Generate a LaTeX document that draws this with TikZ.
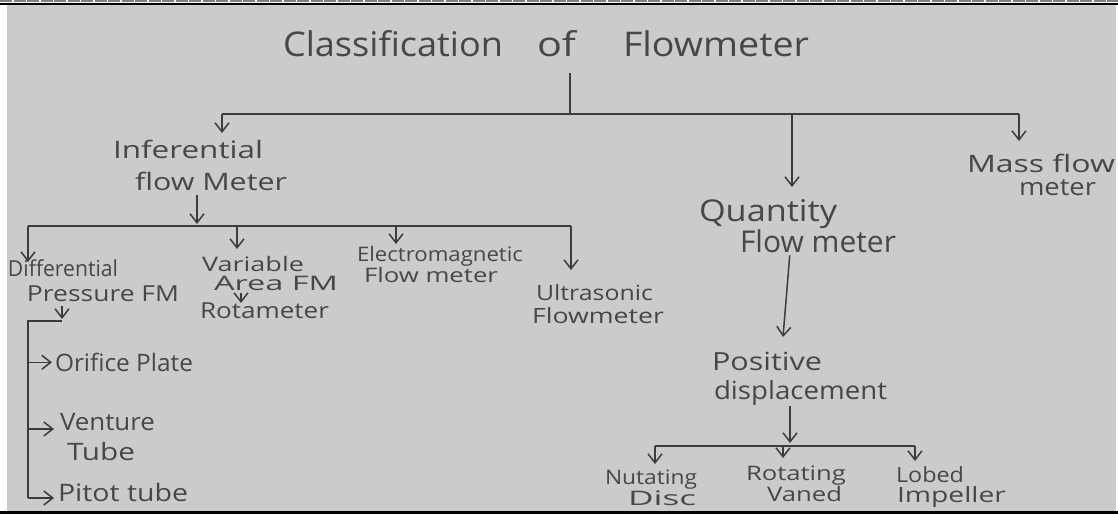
\documentclass[tikz,border=0pt]{standalone}
\usepackage{fontspec}
\usepackage{graphicx}
\setmainfont{Open Sans}
\usetikzlibrary{arrows.meta}
\definecolor{paper}{HTML}{CBCBCB}
\definecolor{ink}{HTML}{3C3C3C}
\definecolor{pencil}{HTML}{474747}
\newcommand\hw[2]{\resizebox{#1pt}{\height}{#2}}
\tikzset{
  lbl/.style 2 args={text=pencil, inner sep=0pt, outer sep=0pt, anchor=north west, align=left,
    font={\fontsize{#1}{#2}\selectfont}},
  ln/.style={draw=ink, line width=1.5pt},
  arr/.style={draw=ink, line width=1.5pt, -{Straight Barb[length=9pt,width=14pt]}}
}
\begin{document}
\begin{tikzpicture}[x=1pt,y=-1pt]
\useasboundingbox (0,0) rectangle (1118,514);
\fill[white] (0,0) rectangle (1118,514);
\fill[paper] (7,5) rectangle (1116,511);
\draw[gray, line width=1.6pt, dash pattern=on 12pt off 1.5pt] (0,0.8) -- (1118,0.8);
\draw[black, line width=2.6pt] (0,3.8) -- (1118,3.8);

% labels
\node[lbl={34}{40}] (title) at (283,30) {\hw{220}{Classification}\hspace*{34pt}\hw{39}{of}\hspace*{47pt}\hw{186}{Flowmeter}};
\node[lbl={24}{32}] (infer) at (113,140) {\hw{150}{Inferential}\\\hspace*{22pt}\hw{152}{flow Meter}};
\node[lbl={22}{25}] (diff) at (8,260) {\hw{110}{Differential}\\\hspace*{19pt}\hw{152}{Pressure FM}};
\node[lbl={20}{19}] (var) at (202,256) {\hw{102}{Variable}\\\hspace*{12pt}\hw{124}{Area FM}};
\node[lbl={22}{25}] (rota) at (200,303) {\hw{129}{Rotameter}};
\node[lbl={20}{19}] (elec) at (357,246) {\hw{166}{Electromagnetic}\\\hspace*{7pt}\hw{134}{Flow meter}};
\node[lbl={21}{23}] (ultra) at (532,285) {\hspace*{4pt}\hw{117}{Ultrasonic}\\\hw{132}{Flowmeter}};
\node[lbl={30}{23}] (qty) at (699,199) {\hw{138}{Quantity}\\\hspace*{41pt}\hw{156}{Flow meter}};
\node[lbl={24}{23}] (mass) at (967,154) {\hw{148}{Mass flow}\\\hspace*{52pt}\hw{77}{meter}};
\node[lbl={24}{30}] (orif) at (55,353) {\hw{138}{Orifice Plate}};
\node[lbl={24}{30}] (vent) at (60,413) {\hw{95}{Venture}\\\hspace*{7pt}\hw{68}{Tube}};
\node[lbl={24}{30}] (pitot) at (58,483) {\hw{130}{Pitot tube}};
\node[lbl={25}{29}] (pos) at (712,352) {\hw{110}{Positive}\\\hspace*{2pt}\hw{173}{displacement}};
\node[lbl={20}{16}] (nut) at (605,470) {\hw{92}{Nutating}\\\hspace*{23pt}\hw{68}{Disc}};
\node[lbl={20}{21}] (rot) at (746,466) {\hw{100}{Rotating}\\\hspace*{21pt}\hw{75}{Vaned}};
\node[lbl={21}{20}] (lob) at (896,467) {\hw{68}{Lobed}\\\hspace*{1pt}\hw{109}{Impeller}};

% junction points
\coordinate (stem) at (570,73);
\coordinate (busT) at (570,114);
\coordinate (busL) at (222,114);
\coordinate (busQ) at (792,114);
\coordinate (busR) at (1019,114);
\coordinate (b2) at (197,226);
\coordinate (b2L) at (28,226);
\coordinate (b2V) at (237,226);
\coordinate (b2E) at (396,226);
\coordinate (b2R) at (571,226);
\coordinate (dp) at (62,321);
\coordinate (brk) at (28,321);
\coordinate (brkEnd) at (28,498);
\coordinate (vtip) at (28,429);
\coordinate (rtop) at (241,0);
\coordinate (q1) at (790,0);
\coordinate (q2) at (783,337);
\coordinate (p3) at (790,446);
\coordinate (b3L) at (655,446);
\coordinate (b3M) at (783,446);
\coordinate (b3R) at (915,446);

% first level
\draw[ln] (stem) -- (busT);
\draw[ln] (busL) -- (busR);
\draw[arr, shorten >=7pt] (busL) -- (busL |- infer.north);
\draw[arr, shorten >=12pt] (busQ) -- (busQ |- qty.north);
\draw[arr, shorten >=13pt] (busR) -- (busR |- mass.north);

% inferential branch
\draw[arr, shorten <=4pt, shorten >=2pt] (b2 |- infer.south) -- (b2);
\draw[ln] (b2L) -- (b2R);
\draw[arr, shorten >=-2pt] (b2L) -- (b2L |- diff.north);
\draw[arr, shorten >=7pt] (b2V) -- (b2V |- var.north);
\draw[arr, shorten >=2pt] (b2E) -- (b2E |- elec.north);
\draw[arr, shorten >=15pt] (b2R) -- (b2R |- ultra.north);
\draw[arr, shorten <=3pt, shorten >=0pt] (rtop |- var.south) -- (rtop |- rota.north);

% differential pressure bracket
\draw[arr, shorten <=4pt, shorten >=2pt] (dp |- diff.south) -- (dp);
\draw[ln] (dp) -- (brk) -- (brkEnd);
\draw[arr, shorten >=3pt] (brk |- orif.west) -- (orif.west);
\draw[arr, shorten >=6pt] (vtip) -- (vent.west |- vtip);
\draw[arr, shorten >=4pt] (brkEnd) -- (pitot.west |- brkEnd);

% quantity branch
\draw[arr, shorten <=3pt] (q1 |- qty.south) -- (q2);
\draw[arr, shorten <=1pt, shorten >=3pt] (p3 |- pos.south) -- (p3);
\draw[ln] (b3L) -- (b3R);
\draw[arr, shorten >=6pt] (b3L) -- (b3L |- nut.north);
\draw[arr, shorten >=8pt] (b3M) -- (b3M |- rot.north);
\draw[arr, shorten >=6pt] (b3R) -- (b3R |- lob.north);

\draw[black, line width=3pt] (0,512.5) -- (1118,512.5);
\end{tikzpicture}
\end{document}
